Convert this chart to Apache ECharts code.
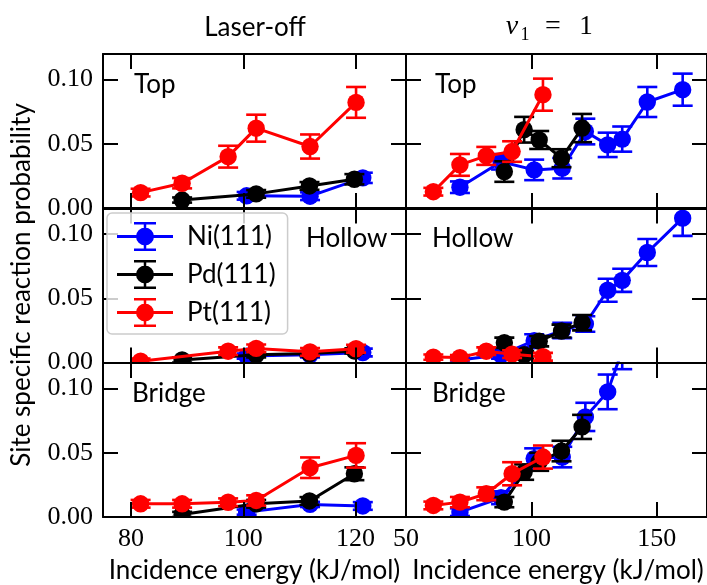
<!DOCTYPE html>
<html><head><meta charset="utf-8">
<script src="https://cdn.jsdelivr.net/npm/echarts@6/dist/echarts.min.js"></script>
<style>html,body{margin:0;padding:0;background:#fff}#c{width:707px;height:585px}</style>
</head><body><div id="c"></div>
<script>
// ---------- DATA ----------
// x positions (incidence energy, kJ/mol)
const ni_off_x = [100.6, 111.9, 121.3];
const pd_off_x = [89.1, 102.3, 111.8, 119.8];
const pt_off_x = [81.7, 89.1, 97.3, 102.3, 111.9, 120.1];
const ni_on_x = [71.5, 87.9, 101.1, 112.3, 121.5, 130.4, 136.2, 146.2, 160.3];
const pd_on_x = [89.2, 97.1, 103.1, 112.0, 120.2];
const pt_on_x = [60.9, 71.5, 82.0, 92.3, 104.6];

// Laser-off
const ni_off_top = [0.0095, 0.0092, 0.0235];
const ni_off_top_err = [0.003, 0.003, 0.004];
const pd_off_top = [0.0062, 0.011, 0.0172, 0.0224];
const pd_off_top_err = [0.002, 0.003, 0.003, 0.004];
const pt_off_top = [0.012, 0.0193, 0.040, 0.0622, 0.0479, 0.0823];
const pt_off_top_err = [0.003, 0.004, 0.0085, 0.0105, 0.0094, 0.012];

const ni_off_hollow = [0.005, 0.006, 0.0078];
const ni_off_hollow_err = [0.002, 0.002, 0.003];
const pd_off_hollow = [0.002, 0.006, 0.007, 0.009];
const pd_off_hollow_err = [0.002, 0.002, 0.002, 0.002];
const pt_off_hollow = [0.001, null, 0.0088, 0.011, 0.0083, 0.0107];
const pt_off_hollow_err = [0.002, null, 0.003, 0.003, 0.003, 0.003];

const ni_off_bridge = [0.0038, 0.0098, 0.0086];
const ni_off_bridge_err = [0.002, 0.002, 0.003];
const pd_off_bridge = [0.002, 0.0103, 0.0125, 0.0337];
const pd_off_bridge_err = [0.002, 0.003, 0.003, 0.005];
const pt_off_bridge = [0.0103, 0.0103, 0.0115, 0.0129, 0.0384, 0.048];
const pt_off_bridge_err = [0.003, 0.003, 0.003, 0.004, 0.008, 0.0095];

// nu1 = 1
const ni_on_top = [0.0162, 0.036, 0.0297, 0.031, 0.0596, 0.0492, 0.0537, 0.0826, 0.0922];
const ni_on_top_err = [0.0045, 0.006, 0.008, 0.008, 0.010, 0.0095, 0.0098, 0.0117, 0.0125];
const pd_on_top = [0.0284, 0.061, 0.053, 0.0388, 0.0623];
const pd_on_top_err = [0.008, 0.010, 0.007, 0.007, 0.011];
const pt_on_top = [0.0127, 0.0336, 0.0406, 0.044, 0.0883];
const pt_on_top_err = [0.003, 0.0085, 0.007, 0.008, 0.0125];

const ni_on_hollow = [0.002, 0.006, 0.017, 0.025, 0.030, 0.0563, 0.064, 0.0857, 0.1125];
const ni_on_hollow_err = [0.002, 0.003, 0.005, 0.006, 0.006, 0.009, 0.009, 0.0105, 0.0138];
const pd_on_hollow = [0.0154, 0.006, 0.0166, 0.0245, 0.031];
const pd_on_hollow_err = [0.004, 0.003, 0.004, 0.005, 0.006];
const pt_on_hollow = [0.0042, 0.0038, 0.0088, 0.0065, 0.0045];
const pt_on_hollow_err = [0.002, 0.002, 0.003, 0.003, 0.003];

const ni_on_bridge = [0.0038, 0.015, 0.0455, 0.0467, 0.078, 0.0975, 0.130, 0.160, 0.190];
const ni_on_bridge_err = [0.003, 0.005, 0.008, 0.008, 0.011, 0.0135, 0.0148, 0.016, 0.018];
const pd_on_bridge = [0.0116, 0.035, 0.043, 0.0514, 0.0702];
const pd_on_bridge_err = [0.004, 0.006, 0.007, 0.008, 0.0094];
const pt_on_bridge = [0.009, 0.0116, 0.0181, 0.0337, 0.0467];
const pt_on_bridge_err = [0.003, 0.004, 0.005, 0.009, 0.009];

// axes / labels
const metals = ['Ni(111)', 'Pd(111)', 'Pt(111)'];
const colors = ['#0000ff', '#000000', '#ff0000'];
const xTicksOff = [80, 100, 120];
const xTicksOn = [50, 100, 150];
const yTicks = [0, 0.05, 0.10];
const columnTitles = ['Laser-off', 'ν', '1', '=', '1'];
const siteLabels = ['Top', 'Hollow', 'Bridge'];
const xTitle = 'Incidence energy (kJ/mol)';
const yTitle = 'Site specific reaction probability';

// ---------- LAYOUT ----------
const colLeft = [103, 406], colW = [303, 304];
const rowTop = [54, 208.5, 363], rowH = 154;
const xRange = [[75, 129], [50, 170]];
const xTicks = [xTicksOff, xTicksOn];
const SERIF = 'Liberation Serif', SANS = 'Lato';

const panels = [
  {col:0,row:0, sets:[[ni_off_x,ni_off_top,ni_off_top_err],[pd_off_x,pd_off_top,pd_off_top_err],[pt_off_x,pt_off_top,pt_off_top_err]]},
  {col:1,row:0, sets:[[ni_on_x,ni_on_top,ni_on_top_err],[pd_on_x,pd_on_top,pd_on_top_err],[pt_on_x,pt_on_top,pt_on_top_err]]},
  {col:0,row:1, sets:[[ni_off_x,ni_off_hollow,ni_off_hollow_err],[pd_off_x,pd_off_hollow,pd_off_hollow_err],[pt_off_x,pt_off_hollow,pt_off_hollow_err]]},
  {col:1,row:1, sets:[[ni_on_x,ni_on_hollow,ni_on_hollow_err],[pd_on_x,pd_on_hollow,pd_on_hollow_err],[pt_on_x,pt_on_hollow,pt_on_hollow_err]]},
  {col:0,row:2, sets:[[ni_off_x,ni_off_bridge,ni_off_bridge_err],[pd_off_x,pd_off_bridge,pd_off_bridge_err],[pt_off_x,pt_off_bridge,pt_off_bridge_err]]},
  {col:1,row:2, sets:[[ni_on_x,ni_on_bridge,ni_on_bridge_err],[pd_on_x,pd_on_bridge,pd_on_bridge_err],[pt_on_x,pt_on_bridge,pt_on_bridge_err]]}
];

const grid = [], xAxis = [], yAxis = [], series = [];
const lineBlack = {color:'#000', width:2};

panels.forEach((p, i) => {
  grid.push({left: colLeft[p.col], width: colW[p.col], top: rowTop[p.row], height: rowH});
  ['bottom','top'].forEach(pos => {
    xAxis.push({
      gridIndex:i, type:'value', position:pos, min:xRange[p.col][0], max:xRange[p.col][1], z:15,
      axisLine:{show:true, onZero:false, lineStyle:lineBlack},
      axisTick:{show:true, inside:true, length:15, lineStyle:lineBlack, customValues:xTicks[p.col]},
      axisLabel:{show: pos==='bottom' && p.row===2, customValues:xTicks[p.col], margin:9,
        fontFamily:SERIF, fontSize:26, color:'#000'},
      splitLine:{show:false}
    });
  });
  ['left','right'].forEach(pos => {
    yAxis.push({
      gridIndex:i, type:'value', position:pos, min:0, max:0.12, z:15,
      axisLine:{show:true, onZero:false, lineStyle:lineBlack},
      axisTick:{show:true, inside:true, length:15, lineStyle:lineBlack, customValues:yTicks},
      axisLabel:{show: pos==='left' && p.col===0, customValues:yTicks, margin:10,
        fontFamily:SERIF, fontSize:26, color:'#000', formatter: v => v.toFixed(2)},
      splitLine:{show:false}
    });
  });
  p.sets.forEach((s, m) => {
    const [xs, ys, es] = s;
    const pts = [];
    xs.forEach((x, k) => { if (ys[k] !== null) pts.push([x, ys[k], es[k]]); });
    const common = {xAxisIndex:2*i, yAxisIndex:2*i, animation:false, silent:true, itemStyle:{color:colors[m]}};
    series.push(Object.assign({}, common, {
      type:'custom', name:metals[m]+' err', clip:true, z:2+3*m, encode:{x:0,y:1}, data:pts,
      renderItem: (params, api) => {
        const x = api.value(0), y = api.value(1), e = api.value(2);
        const a = api.coord([x, y - e]), b = api.coord([x, y + e]);
        const st = {stroke:colors[m], lineWidth:2.6};
        const cap = 10;
        return {type:'group', children:[
          {type:'line', shape:{x1:a[0], y1:a[1], x2:b[0], y2:b[1]}, style:st},
          {type:'line', shape:{x1:a[0]-cap, y1:a[1], x2:a[0]+cap, y2:a[1]}, style:st},
          {type:'line', shape:{x1:b[0]-cap, y1:b[1], x2:b[0]+cap, y2:b[1]}, style:st}
        ]};
      }
    }));
    series.push(Object.assign({}, common, {
      type:'line', name:metals[m], clip:true, z:3+3*m, symbol:'none', showSymbol:false,
      data: pts.map(q => [q[0], q[1]]),
      lineStyle:{color:colors[m], width:3}
    }));
    series.push(Object.assign({}, common, {
      type:'custom', name:metals[m]+' mk', clip:true, z:4+3*m, encode:{x:0,y:1}, data:pts,
      renderItem: (params, api) => {
        const c = api.coord([api.value(0), api.value(1)]);
        return {type:'circle', shape:{cx:c[0], cy:c[1], r:8.7}, style:{fill:colors[m]}};
      }
    }));
  });
});

const iconPath = 'path://M0 13.5H56V16.5H0Z M26.75 0.5H29.25V29.5H26.75Z M17 0.5H39V3H17Z M17 27H39V29.5H17Z M19 15A9 9 0 1 1 37 15A9 9 0 1 1 19 15Z';

const txt = (text, x, y, opt) => Object.assign({type:'text', x:x, y:y, z:30, silent:true,
  style:Object.assign({text:text, fill:'#000', fontFamily:SANS, fontSize:26, align:'left', verticalAlign:'middle'}, opt || {})});

const graphic = [
  txt(columnTitles[0], 255, 28, {align:'center'}),
  txt(columnTitles[1], 512, 27, {align:'center', fontFamily:SERIF, fontStyle:'italic', fontSize:28}),
  txt(columnTitles[2], 525, 35, {align:'center', fontFamily:SERIF, fontSize:18}),
  txt(columnTitles[3], 553, 27, {align:'center', fontFamily:SERIF, fontSize:28}),
  txt(columnTitles[4], 586, 27, {align:'center', fontFamily:SERIF, fontSize:27}),
  txt(siteLabels[0], 134, 85),
  txt(siteLabels[0], 435, 85),
  txt(siteLabels[1], 306, 239),
  txt(siteLabels[1], 432, 239),
  txt(siteLabels[2], 132, 394),
  txt(siteLabels[2], 432, 394),
  txt(xTitle, 254.5, 571, {align:'center'}),
  txt(xTitle, 558, 571, {align:'center'}),
  Object.assign(txt(yTitle, 22, 285, {align:'center'}), {rotation: Math.PI/2})
];

const chart = echarts.init(document.getElementById('c'), null, {renderer:'canvas'});
chart.setOption({
  animation:false,
  backgroundColor:'#fff',
  grid, xAxis, yAxis, series, graphic,
  legend:{
    left:107, top:213, orient:'vertical', z:20, selectedMode:false,
    itemWidth:56, itemHeight:30, itemGap:9, padding:[9,12,7,10],
    backgroundColor:'rgba(255,255,255,0.8)', borderColor:'#cccccc', borderWidth:1.5, borderRadius:5,
    textStyle:{fontFamily:SANS, fontSize:26, color:'#000', padding:[0,0,0,9]},
    data: metals.map((n, m) => ({name:n, icon:iconPath, itemStyle:{color:colors[m], borderWidth:0}}))
  }
});
</script>
</body></html>
